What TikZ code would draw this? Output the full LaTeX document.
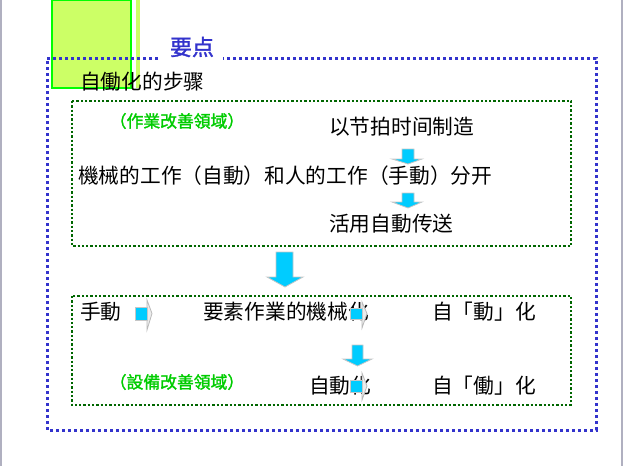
\documentclass[tikz,border=0pt]{standalone}
\usepackage{fontspec}
\setmainfont{Noto Sans CJK SC}
\newfontfamily\cjkbold[FakeBold=1.5]{Noto Sans CJK SC}
\definecolor{frameblue}{HTML}{3333CC}
\definecolor{boxgreen}{HTML}{006600}
\definecolor{labelgreen}{HTML}{00CC00}
\definecolor{arrowcyan}{HTML}{00CCFF}
\definecolor{limefill}{HTML}{CCFF66}
\definecolor{limeline}{HTML}{00FF00}
\definecolor{edgegray}{HTML}{B0B0C0}
\tikzset{
  bodytext/.style={inner sep=0pt, anchor=west, font=\fontsize{20.7}{24}\selectfont, text=black},
  areatext/.style={inner sep=0pt, font=\cjkbold\fontsize{16.8}{19}\selectfont, text=labelgreen},
  titletext/.style={inner sep=0pt, font=\cjkbold\fontsize{22}{26}\selectfont, text=frameblue},
  outerframe/.style={draw=frameblue, line width=3pt, dash pattern=on 3pt off 3pt},
  innerbox/.style={draw=boxgreen, line width=2.3pt, dash pattern=on 2.3pt off 2pt},
  blockarrow/.style={fill=arrowcyan, draw=gray!45, line width=0.8pt, line join=miter},
  arrowhead/.style={fill=gray!15, draw=gray!55, line width=0.8pt},
}
\begin{document}
\begin{tikzpicture}[x=1pt,y=-1pt]
\useasboundingbox (0,0) rectangle (623,466);
% page edges
\draw[edgegray, line width=1.5pt] (1,0) -- (1,466);
\draw[edgegray, line width=1.5pt] (622,0) -- (622,466);
% lime rectangle and strip
\fill[limefill] (136,0) rectangle (140,88);
\draw[fill=limefill, draw=limeline, line width=1.2pt] (52,0) rectangle (131,88);
% outer blue dotted frame with gap for title
\draw[outerframe] (158,58) -- (47,58) -- (47,430) -- (596,430) -- (596,58) -- (223,58);
\node[titletext] (title) at (192,47) {要点};
\node[bodytext] (steps) at (80,82) {自働化的步骤};
% upper box
\draw[innerbox] (72,101) rectangle (571,246);
\node[areatext] (area1) at (177,121) {（作業改善領域）};
\node[bodytext] (takt) at (329,127) {以节拍时间制造};
\node[bodytext] (split) at (78,176) {機械的工作（自動）和人的工作（手動）分开};
\node[bodytext] (transfer) at (329,224) {活用自動传送};
% small down arrows in upper box
\draw[blockarrow] (402,149) -- (414,149) -- (414,159) -- (422,159) -- (408,164) -- (392,159) -- (402,159) -- cycle;
\draw[blockarrow] (402,193) -- (414,193) -- (414,202) -- (422,202) -- (408,208) -- (392,202) -- (402,202) -- cycle;
% big down arrow
\draw[blockarrow] (276,252) -- (293,252) -- (293,277) -- (303,277) -- (285,287) -- (267,277) -- (276,277) -- cycle;
% lower box
\draw[innerbox] (72,296) rectangle (571,405);
\node[bodytext] (manual) at (80,312) {手動};
\node[bodytext] (mech) at (203,312) {要素作業的機械化};
\node[bodytext] (jido1) at (432,312) {自「動」化};
\node[areatext] (area2) at (177,382) {（設備改善領域）};
\node[bodytext] (auto) at (309,386) {自動化};
\node[bodytext] (jido2) at (432,386) {自「働」化};
% right arrows
\draw[arrowhead] (147,300) -- (152,313.5) -- (147,330) -- cycle;
\draw[blockarrow] (135,307) rectangle (147,320);
\draw[arrowhead] (362,302) -- (367,313.5) -- (362,328) -- cycle;
\draw[blockarrow] (350,308) rectangle (362,319);
\draw[arrowhead] (362,373) -- (367,386) -- (362,400) -- cycle;
\draw[blockarrow] (350,380) rectangle (362,392);
% down arrow lower box
\draw[blockarrow] (352,345) -- (363,345) -- (363,359) -- (372,359) -- (357.5,366) -- (343,359) -- (352,359) -- cycle;
\end{tikzpicture}
\end{document}
